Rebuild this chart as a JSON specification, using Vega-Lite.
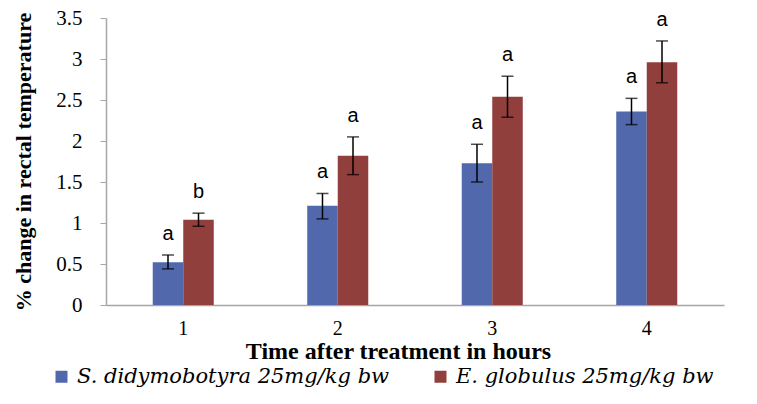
{
  "$schema": "https://vega.github.io/schema/vega-lite/v6.json",
  "width": 618,
  "height": 287,
  "autosize": "none",
  "padding": {"left": 106, "top": 18, "right": 33, "bottom": 99},
  "background": "white",
  "config": {
    "view": {"stroke": null},
    "font": "Liberation Serif",
    "axis": {"labelFont": "Liberation Serif", "titleFont": "Liberation Serif"}
  },
  "data": {
    "values": [
      {"time": "1", "series": "S. didymobotyra 25mg/kg bw", "value": 0.52, "lo": 0.44, "hi": 0.61, "letter": "a"},
      {"time": "1", "series": "E. globulus 25mg/kg bw", "value": 1.04, "lo": 0.96, "hi": 1.12, "letter": "b"},
      {"time": "2", "series": "S. didymobotyra 25mg/kg bw", "value": 1.21, "lo": 1.05, "hi": 1.36, "letter": "a"},
      {"time": "2", "series": "E. globulus 25mg/kg bw", "value": 1.82, "lo": 1.59, "hi": 2.05, "letter": "a"},
      {"time": "3", "series": "S. didymobotyra 25mg/kg bw", "value": 1.73, "lo": 1.50, "hi": 1.96, "letter": "a"},
      {"time": "3", "series": "E. globulus 25mg/kg bw", "value": 2.54, "lo": 2.29, "hi": 2.79, "letter": "a"},
      {"time": "4", "series": "S. didymobotyra 25mg/kg bw", "value": 2.36, "lo": 2.20, "hi": 2.52, "letter": "a"},
      {"time": "4", "series": "E. globulus 25mg/kg bw", "value": 2.96, "lo": 2.71, "hi": 3.22, "letter": "a"}
    ]
  },
  "encoding": {
    "x": {
      "field": "time",
      "type": "nominal",
      "scale": {"paddingInner": 0.605, "paddingOuter": 0.3025},
      "axis": {
        "title": "Time after treatment in hours",
        "titleFont": "Liberation Serif",
        "titleFontSize": 24,
        "titleFontWeight": "bold",
        "titleColor": "#000000",
        "titlePadding": 1,
        "titleX": 292,
        "labelAngle": 0,
        "labelFont": "Liberation Serif",
        "labelFontSize": 20,
        "labelColor": "#000000",
        "labelPadding": 13,
        "ticks": false,
        "domainColor": "#A6A6A6",
        "domainWidth": 1.5,
        "grid": false
      }
    },
    "xOffset": {
      "field": "series",
      "type": "nominal",
      "sort": ["S. didymobotyra 25mg/kg bw", "E. globulus 25mg/kg bw"],
      "scale": {"paddingInner": 0, "paddingOuter": 0}
    }
  },
  "layer": [
    {
      "mark": {"type": "bar"},
      "encoding": {
        "y": {
          "field": "value",
          "type": "quantitative",
          "scale": {"domain": [0, 3.5], "nice": false, "zero": true},
          "axis": {
            "title": "% change in rectal temperature",
            "titleFont": "Liberation Serif",
            "titleFontSize": 22,
            "titleFontWeight": "bold",
            "titleColor": "#000000",
            "titlePadding": 20,
            "values": [0, 0.5, 1, 1.5, 2, 2.5, 3, 3.5],
            "format": "~g",
            "labelFont": "Liberation Serif",
            "labelFontSize": 21,
            "labelColor": "#000000",
            "labelPadding": 18,
            "tickSize": 6,
            "tickColor": "#A6A6A6",
            "domainColor": "#A6A6A6",
            "domainWidth": 1.5,
            "grid": false
          }
        },
        "color": {
          "field": "series",
          "type": "nominal",
          "sort": ["S. didymobotyra 25mg/kg bw", "E. globulus 25mg/kg bw"],
          "scale": {"range": ["#5169AC", "#913F3D"]},
          "legend": {
            "title": null,
            "orient": "none",
            "legendX": -55,
            "legendY": 348,
            "direction": "horizontal",
            "columns": 2,
            "columnPadding": 40,
            "symbolType": "square",
            "symbolSize": 144,
            "symbolStrokeWidth": 0,
            "symbolOpacity": 1,
            "labelFont": "DejaVu Serif",
            "labelFontStyle": "italic",
            "labelFontSize": 21,
            "labelColor": "#000000",
            "labelOffset": 5,
            "labelLimit": 400,
            "padding": 0
          }
        }
      }
    },
    {
      "mark": {"type": "rule", "color": "#000000", "strokeWidth": 1.5},
      "encoding": {
        "y": {"field": "lo", "type": "quantitative"},
        "y2": {"field": "hi"}
      }
    },
    {
      "mark": {"type": "tick", "color": "#000000", "thickness": 1.5, "size": 12, "orient": "horizontal"},
      "encoding": {
        "y": {"field": "lo", "type": "quantitative"}
      }
    },
    {
      "mark": {"type": "tick", "color": "#000000", "thickness": 1.5, "size": 12, "orient": "horizontal"},
      "encoding": {
        "y": {"field": "hi", "type": "quantitative"}
      }
    },
    {
      "mark": {"type": "text", "font": "Liberation Sans", "fontSize": 20, "color": "#000000", "baseline": "alphabetic", "dy": -15},
      "encoding": {
        "y": {"field": "hi", "type": "quantitative"},
        "text": {"field": "letter"}
      }
    }
  ]
}
